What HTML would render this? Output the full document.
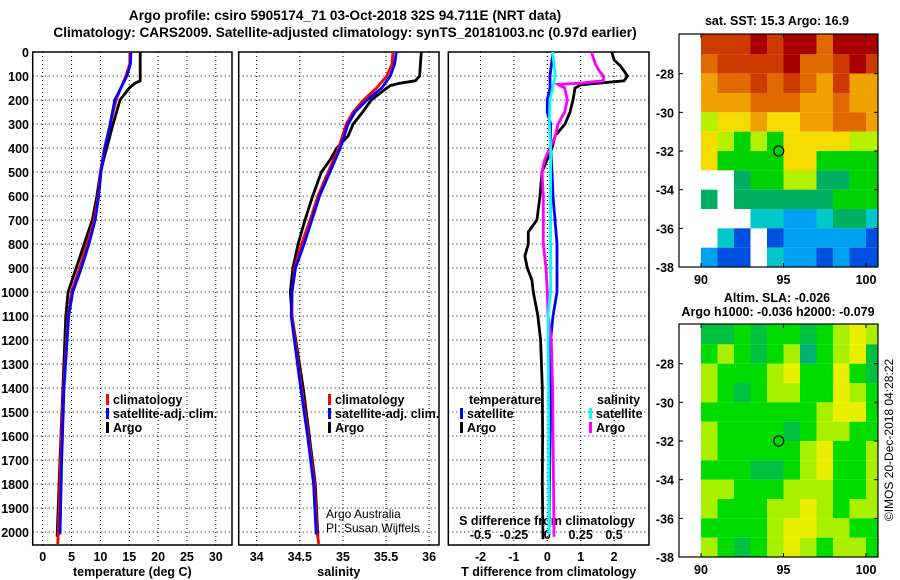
<!DOCTYPE html>
<html><head><meta charset="utf-8"><style>
body{margin:0;background:#fff;}
svg{display:block;font-family:"Liberation Sans",Arial,sans-serif;}
.b{font-weight:bold;font-size:12.5px;}
.n{font-weight:normal;font-size:12px;}
.t{font-weight:bold;font-size:13.6px;}
</style></head><body>
<svg id="c" width="900" height="580" viewBox="0 0 900 580">
<text class="t" x="345" y="20" text-anchor="middle">Argo profile: csiro 5905174_71 03-Oct-2018 32S 94.711E (NRT data)</text>
<text class="t" x="345" y="37" text-anchor="middle">Climatology: CARS2009. Satellite-adjusted climatology: synTS_20181003.nc (0.97d earlier)</text>
<g id="g"></g>
</svg>
<script>
// ---------- data ----------
const depthTicks=[0,100,200,300,400,500,600,700,800,900,1000,1100,1200,1300,1400,1500,1600,1700,1800,1900,2000];
const tempTicks=[0,5,10,15,20,25,30];
const salTicks=[34,34.5,35,35.5,36];
const tdiffTicks=[-2,-1,0,1,2];
const sdiffTicks=[-0.5,-0.25,0,0.25,0.5];
const sdiffLabels=["-0.5","-0.25","0","0.25","0.5"];

const tArgoD=[0,120,130,150,200,300,400,500,600,700,800,900,1000,1100,1400,1700,2020];
const tArgoV=[16.9,16.9,16.0,15.0,13.4,12.2,11.1,10.0,9.4,8.6,7.2,5.8,4.4,4.0,3.5,3.0,2.5];
const tClimD=[0,50,100,200,300,400,500,600,700,800,900,1000,1100,1400,1700,2000,2050];
const tClimV=[15.1,15.1,14.4,12.7,11.7,10.7,10.0,9.6,8.9,7.7,6.4,5.0,4.4,3.6,3.1,2.7,2.6];
const tSatD=[0,50,100,200,300,400,500,600,700,800,900,1000,1100,1400,1700,2010];
const tSatV=[15.3,15.2,14.6,12.5,11.7,10.8,10.1,9.7,9.1,8.0,6.7,5.2,4.5,3.7,3.3,3.0];

const sArgoD=[0,100,120,130,140,150,200,250,300,350,400,450,500,600,700,800,900,1000,1100,1400,1600,1800,2020];
const sArgoV=[35.91,35.89,35.84,35.66,35.55,35.51,35.33,35.23,35.12,35.06,34.93,34.85,34.75,34.65,34.56,34.48,34.42,34.39,34.41,34.54,34.61,34.68,34.71];
const sClimD=[0,50,100,150,200,250,300,400,500,600,700,800,900,1000,1100,1400,1600,1800,2000,2050];
const sClimV=[35.58,35.57,35.51,35.39,35.24,35.12,35.04,34.95,34.83,34.71,34.62,34.52,34.44,34.41,34.41,34.52,34.60,34.67,34.70,34.72];
const sSatD=[0,50,100,150,200,250,300,400,500,600,700,800,900,1000,1100,1400,1600,1800,2010];
const sSatV=[35.62,35.60,35.55,35.45,35.28,35.14,35.06,34.97,34.85,34.73,34.64,34.55,34.45,34.41,34.40,34.51,34.59,34.66,34.69];

const dTArgoD=[0,33,60,100,120,137,150,200,250,300,350,400,500,600,700,750,800,850,900,950,1000,1100,1200,1400,1600,1800,2030];
const dTArgoV=[1.93,2.0,2.2,2.4,2.3,1.0,0.83,0.77,0.68,0.53,0.23,0.14,-0.16,-0.22,-0.31,-0.57,-0.57,-0.67,-0.6,-0.46,-0.42,-0.28,-0.2,-0.15,-0.14,-0.15,-0.13];
const dTSatD=[0,100,150,200,250,300,400,500,600,700,800,900,1000,1100,1200,1600,2010];
const dTSatV=[0.17,0.08,0.08,0.0,0.0,0.1,0.1,0.14,0.17,0.23,0.29,0.29,0.29,0.17,0.1,0.08,0.05];
const dSSatD=[0,100,150,200,300,400,700,1000,1100,1500,2010];
const dSSatV=[0.04,0.06,0.04,0.02,0.015,0.025,0.025,0.025,0.005,0.01,0.012];
const dSArgoD=[0,50,80,100,120,130,135,140,150,200,250,300,350,400,450,500,600,700,800,900,1000,1100,1200,1400,1700,2020];
const dSArgoV=[0.33,0.36,0.39,0.42,0.42,0.245,0.08,0.095,0.13,0.15,0.13,0.08,0.06,0.02,-0.02,-0.04,-0.03,-0.03,-0.03,-0.01,0.0,0.005,0.03,0.04,0.045,0.05];

const lonTicks=[90,95,100];
const latTicks=[-28,-30,-32,-34,-36,-38];
const sstGrid=[
[8,8,8,9,8,9,9,7,9,9,9],
[7,8,8,8,8,9,7,7,8,9,8],
[6,7,7,8,7,8,7,6,8,6,6],
[6,6,6,7,7,7,6,6,7,6,6],
[4,5,5,6,5,5,6,6,7,7,6],
[5,4,3,4,3,5,5,5,5,4,4],
[5,3,3,3,3,5,5,3,3,3,3],
[null,null,2,3,3,4,4,2,2,3,3],
[2,null,2,2,2,2,2,2,3,3,3],
[null,null,null,1,1,0,0,1,2,2,1],
[null,1,-1,null,-1,0,0,0,0,0,-1],
[0,-1,-1,null,1,0,0,-1,0,-1,-1]];
const slaGrid=[
[1,1,2,1,2,2,1,2,3,4,3],
[2,3,2,1,2,3,0,2,3,4,1],
[3,2,2,2,3,4,2,2,4,2,1],
[3,2,1,2,3,3,2,2,4,3,2],
[2,2,2,2,2,2,2,3,4,4,2],
[3,2,2,2,2,1,2,3,3,2,2],
[3,2,2,2,2,2,3,4,2,2,3],
[2,2,2,1,1,2,3,4,2,2,3],
[3,3,2,2,2,3,3,3,2,2,3],
[3,2,2,2,3,3,4,3,2,3,3],
[2,2,2,2,3,4,4,3,3,2,2],
[3,2,1,2,3,4,3,2,3,3,2]];
const argoLon=94.711, argoLat=-32;

// ---------- helpers ----------
const NS="http://www.w3.org/2000/svg";
const G=document.getElementById('g');
function mk(tag,attrs,parent){const e=document.createElementNS(NS,tag);for(const k in attrs)e.setAttribute(k,attrs[k]);(parent||G).appendChild(e);return e;}
const yD=d=>52+d*0.24;
const xT=t=>42.7+t*5.77;
const xS=s=>256.7+(s-34)*86.2;
const xTD=v=>547.3+v*33.4;
const xSD=v=>547.3+v*133.5;
const PB=545;

function panel(x0,x1,xf,ticks,labels,title,name){
  const g=mk('g',{});
  
  
  depthTicks.forEach(d=>{if(d>0){const l=mk('line',{x1:x0,x2:x1,y1:yD(d),y2:yD(d),stroke:'#000','stroke-width':1,'stroke-dasharray':'1,3'},g);
    }});
  ticks.forEach((t,i)=>{const x=xf(t);const l=mk('line',{x1:x,x2:x,y1:52,y2:PB,stroke:'#000','stroke-width':1,'stroke-dasharray':'1,3'},g);
    
    const tx=mk('text',{x:x,y:561,'text-anchor':'middle',class:'b'},g);tx.textContent=labels[i];
    });
  const r=mk('rect',{x:x0,y:52,width:x1-x0,height:PB-52,fill:'none',stroke:'#000','stroke-width':1.5},g);
  
  const tt=mk('text',{x:(x0+x1)/2,y:576,'text-anchor':'middle',class:'b'},g);tt.textContent=title;
  
}
function line(D,V,xf,col,name){
  const pts=D.map((d,i)=>xf(V[i]).toFixed(1)+','+yD(d).toFixed(1)).join(' ');
  const p=mk('polyline',{points:pts,fill:'none',stroke:col,'stroke-width':2.8,'stroke-linejoin':'miter'});
  
  
}
function legend(x,y,col,label,name){
  const r=mk('rect',{x:x,y:y-10,width:3,height:11,fill:col});
  
  
  const t=mk('text',{x:x+7,y:y,class:'b'});t.textContent=label;
  
  
}
function txt(x,y,s,name,anchor,cls){const t=mk('text',{x:x,y:y,'text-anchor':anchor||'start',class:cls||'b'});t.textContent=s;
  return t;}

depthTicks.forEach(d=>{txt(29,yD(d)+5,String(d),'y-tick-label','end');});

panel(32.7,232,xT,tempTicks,tempTicks.map(String),'temperature (deg C)','temperature-panel');
panel(238.7,439,xS,salTicks,salTicks.map(String),'salinity','salinity-panel');
panel(448.3,649,xTD,tdiffTicks,tdiffTicks.map(String),'T difference from climatology','difference-panel');
sdiffTicks.forEach((v,i)=>txt(xSD(v),539,sdiffLabels[i],'s-diff-tick-label','middle'));
txt(547,525,'S difference from climatology','s-diff-axis-title','middle');

line(tArgoD,tArgoV,xT,'#000','temp-argo-line');
line(tClimD,tClimV,xT,'#f00','temp-climatology-line');
line(tSatD,tSatV,xT,'#00f','temp-satellite-line');
line(sArgoD,sArgoV,xS,'#000','sal-argo-line');
line(sClimD,sClimV,xS,'#f00','sal-climatology-line');
line(sSatD,sSatV,xS,'#00f','sal-satellite-line');
line(dTArgoD,dTArgoV,xTD,'#000','tdiff-argo-line');
line(dTSatD,dTSatV,xTD,'#00f','tdiff-satellite-line');
line(dSArgoD,dSArgoV,xSD,'#f0f','sdiff-argo-line');
line(dSSatD,dSSatV,xSD,'#0ff','sdiff-satellite-line');

legend(106,404,'#f00','climatology','legend-climatology');
legend(106,418,'#00f','satellite-adj. clim.','legend-satellite-adj');
legend(106,432,'#000','Argo','legend-argo');
legend(328,404,'#f00','climatology','legend-sal-climatology');
legend(328,418,'#00f','satellite-adj. clim.','legend-sal-satellite-adj');
legend(328,432,'#000','Argo','legend-sal-argo');
txt(469,404,'temperature','legend-temperature-header');
legend(460,418,'#00f','satellite','legend-tdiff-satellite');
legend(460,432,'#000','Argo','legend-tdiff-argo');
txt(597,404,'salinity','legend-salinity-header');
legend(589,418,'#0ff','satellite','legend-sdiff-satellite');
legend(589,432,'#f0f','Argo','legend-sdiff-argo');
txt(326,518,'Argo Australia','credit-argo-australia','start','n');
txt(326,532,'PI: Susan Wijffels','credit-pi','start','n');

// maps
const sstCols={9:'#a80000',8:'#cc3a00',7:'#e06a00',6:'#f0a000',5:'#f4dc00',4:'#b4f000',3:'#00d200',2:'#00b060',1:'#00c8c8',0:'#00a0f0','-1':'#0050e0','-2':'#0000a0'};
const slaCols={0:'#00b070',1:'#00c040',2:'#00dc00',3:'#a8f000',4:'#e8f000'};
const lonX=l=>701+(l-90)*16.5;
function map(y0,y1,grid,cols,name){
  const g=mk('g',{});
  const latY=la=>y1+(la+38)*(-19.33);
  const x0=679,x1=878;
  grid.forEach((row,i)=>row.forEach((v,j)=>{ if(v===null)return;
    const top=Math.max(y0,latY(-26-i)-(i==0?20:0)), bot=latY(-27-i);
    const l=lonX(90+j), r=Math.min(x1,lonX(91+j));
    const c=mk('rect',{x:l,y:top,width:r-l,height:bot-top,fill:cols[v]},g);
    }));
  const f=mk('rect',{x:x0,y:y0,width:x1-x0,height:y1-y0,fill:'none',stroke:'#000','stroke-width':1.2},g);
  
  lonTicks.forEach(lo=>{const x=lonX(lo);mk('line',{x1:x,x2:x,y1:y1,y2:y1-4,stroke:'#000'},g);mk('line',{x1:x,x2:x,y1:y0,y2:y0+4,stroke:'#000'},g);
    txt(x,y1+17,String(lo),'map-lon-label','middle');});
  latTicks.forEach(la=>{const y=latY(la);mk('line',{x1:x0,x2:x0+4,y1:y,y2:y,stroke:'#000'},g);mk('line',{x1:x1,x2:x1-4,y1:y,y2:y,stroke:'#000'},g);
    txt(674,y+5,String(la),'map-lat-label','end');});
  const ci=mk('circle',{cx:lonX(argoLon),cy:latY(argoLat),r:5,fill:'none',stroke:'#000','stroke-width':1.2},g);
  
}
map(34,267,sstGrid,sstCols,'sst-map');
map(324,557,slaGrid,slaCols,'sla-map');
txt(777,25,'sat. SST: 15.3 Argo: 16.9','sst-map-title','middle');
txt(777,302,'Altim. SLA: -0.026','sla-map-title','middle');
txt(778,316,'Argo h1000: -0.036 h2000: -0.079','sla-map-subtitle','middle');
const cp=txt(0,0,'©IMOS 20-Dec-2018 04:28:22','copyright-timestamp','middle','n');
cp.setAttribute('font-size','13');
cp.setAttribute('transform','translate(893,440) rotate(-90)');
</script>
</body></html>
